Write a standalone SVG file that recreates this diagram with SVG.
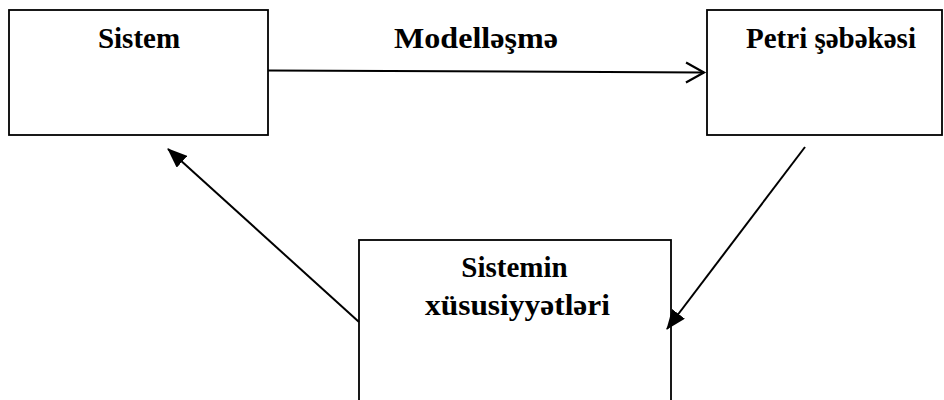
<svg xmlns="http://www.w3.org/2000/svg" width="944" height="400" viewBox="0 0 944 400">
<defs>
<style>
.box{fill:#fff;stroke:#000;stroke-width:1.8}
.lbl{font-family:"Liberation Serif","Times New Roman",serif;font-weight:bold;font-size:29px;fill:#000;text-anchor:middle}
.con{fill:none;stroke:#000;stroke-width:2}
</style>
<marker id="open" markerWidth="20" markerHeight="24" refX="18" refY="10" orient="auto" markerUnits="userSpaceOnUse" viewBox="0 0 20 24" overflow="visible">
<path d="M0,0 L18,10 L0,20" fill="none" stroke="#000" stroke-width="2.2"/>
</marker>
<marker id="fill" markerWidth="20" markerHeight="16" refX="19" refY="8" orient="auto" markerUnits="userSpaceOnUse" viewBox="0 0 20 16">
<path d="M0,0 L20,8 L0,16 Z" fill="#000"/>
</marker>
</defs>
<rect width="944" height="400" fill="#fff"/>
<g id="sistem">
<rect class="box" x="9" y="10" width="259" height="125"/>
<text class="lbl" x="139" y="48">Sistem</text>
</g>
<g id="petri">
<rect class="box" x="707" y="10" width="235" height="125"/>
<text class="lbl" x="831" y="48">Petri şəbəkəsi</text>
</g>
<g id="xususiyyetler">
<rect class="box" x="359" y="240" width="312" height="170"/>
<text class="lbl" x="514.5" y="277" font-size="28">Sistemin</text>
<text class="lbl" x="517.5" y="315" font-size="29" textLength="185" lengthAdjust="spacingAndGlyphs">xüsusiyyətləri</text>
</g>
<g id="connectors">
<line class="con" x1="268" y1="70.5" x2="704" y2="72.5" marker-end="url(#open)"/>
<text class="lbl" x="476" y="48" font-size="30" textLength="164" lengthAdjust="spacingAndGlyphs">Modelləşmə</text>
<line class="con" x1="805" y1="147" x2="667" y2="329" marker-end="url(#fill)"/>
<line class="con" x1="359" y1="322" x2="168" y2="149" marker-end="url(#fill)"/>
</g>
</svg>
